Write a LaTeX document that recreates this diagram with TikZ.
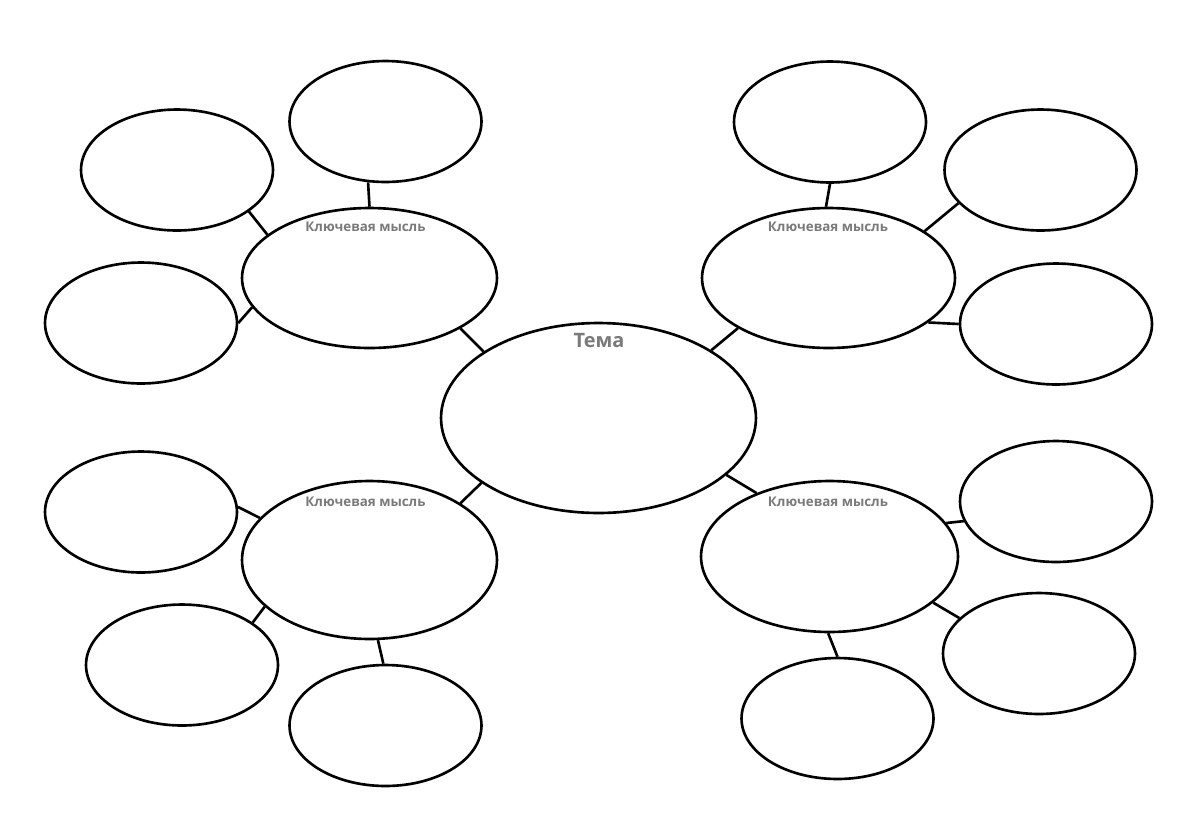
\documentclass[tikz,border=0pt]{standalone}
\usepackage{fontspec}
\setmainfont{Open Sans}
\usetikzlibrary{shapes.geometric}
\definecolor{labelgray}{HTML}{7A7A7A}
\tikzset{
  bubble/.style={ellipse, draw=black, line width=1.5pt, inner sep=0pt, fill=white},
  small/.style={bubble, minimum width=3.84cm, minimum height=2.42cm},
  link/.style={draw=black, line width=1.5pt},
  keytext/.style={anchor=base, inner sep=0pt, text=labelgray, font=\bfseries\fontsize{7.6pt}{9pt}\selectfont},
  themetext/.style={anchor=base, inner sep=0pt, text=labelgray, font=\bfseries\fontsize{11.3pt}{13pt}\selectfont}
}
\begin{document}
\begin{tikzpicture}[x=0.02cm, y=-0.02cm]
\useasboundingbox (0,0) rectangle (1200,836);
% centre
\node[bubble, minimum width=6.3cm, minimum height=3.8cm] (C) at (598.5,418) {};
% key ideas
\node[bubble, minimum width=5.1cm, minimum height=2.8cm] (K1) at (369.5,278) {};
\node[bubble, minimum width=5.06cm, minimum height=2.8cm] (K2) at (828.5,278) {};
\node[bubble, minimum width=5.1cm, minimum height=3.16cm] (K3) at (369.5,560) {};
\node[bubble, minimum width=5.14cm, minimum height=3.02cm] (K4) at (829.5,556.5) {};
% small bubbles
\node[small] (A1) at (385.5,121.5) {};
\node[small] (A2) at (177,170) {};
\node[small] (A3) at (141,323) {};
\node[small] (B1) at (830,122) {};
\node[small] (B2) at (1040.5,170) {};
\node[small] (B3) at (1056,324) {};
\node[small] (D1) at (141,512) {};
\node[small] (D2) at (182,665) {};
\node[small] (D3) at (385.5,725.5) {};
\node[small] (E1) at (1056,501.5) {};
\node[small] (E2) at (1039,653.5) {};
\node[small] (E3) at (837.5,718.5) {};
% connectors
\draw[link] (A1.254.5) -- (K1.90);
\draw[link] (A2.330.3) -- (K1.157.7);
\draw[link] (A3.0) -- (K1.194.7);
\draw[link] (K1.331.1) -- (C.150.6);
\draw[link] (B1.270) -- (K2.92);
\draw[link] (B2.202.9) -- (K2.26.9);
\draw[link] (B3.180) -- (K2.336.6);
\draw[link] (K2.209.4) -- (C.31.7);
\draw[link] (D1.3) -- (K3.159.5);
\draw[link] (D2.31.3) -- (K3.204.6);
\draw[link] (D3.92.4) -- (K3.276.8);
\draw[link] (K3.32.7) -- (C.209);
\draw[link] (E1.192.8) -- (K4.16.6);
\draw[link] (E2.156.1) -- (K4.336.7);
\draw[link] (E3.90) -- (K4.269);
\draw[link] (K4.139.9) -- (C.336.5);
% texts
\node[themetext] (tC) at (599,347.7) {Тема};
\node[keytext] (t1) at (365.5,231) {Ключевая мысль};
\node[keytext] (t2) at (828,231) {Ключевая мысль};
\node[keytext] (t3) at (365.5,506.7) {Ключевая мысль};
\node[keytext] (t4) at (828,506.7) {Ключевая мысль};
\end{tikzpicture}
\end{document}
